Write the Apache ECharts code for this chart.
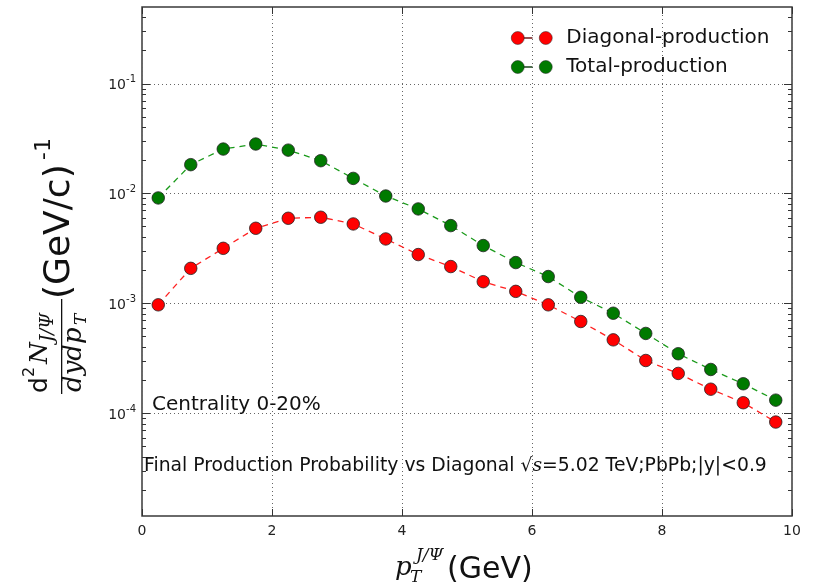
<!DOCTYPE html>
<html><head><meta charset="utf-8">
<script src="https://cdn.jsdelivr.net/npm/echarts@6/dist/echarts.min.js"></script>
<style>html,body{margin:0;padding:0;background:#fff}#c{width:815px;height:587px}</style>
</head><body><div id="c"></div>
<script>
// ---- data ----
const pt = [0.25,0.75,1.25,1.75,2.25,2.75,3.25,3.75,4.25,4.75,5.25,5.75,6.25,6.75,7.25,7.75,8.25,8.75,9.25,9.75];
const diagonal = [0.000973,0.00209,0.00318,0.00484,0.00597,0.0061,0.0053,0.00387,0.00279,0.00217,0.00158,0.00129,0.000973,0.000686,0.000467,0.000303,0.000231,0.000166,0.000125,0.0000834];
const total = [0.00914,0.01836,0.02547,0.0283,0.0249,0.01995,0.01377,0.00952,0.00726,0.00512,0.00337,0.00236,0.00176,0.00114,0.000816,0.000534,0.000349,0.000251,0.000186,0.000132];
const seriesNames = ['Diagonal-production','Total-production'];
const xTicks = [0,2,4,6,8,10];
const yDecades = [1e-5,1e-4,1e-3,1e-2,1e-1];
const yMajorTicks = [1e-4,1e-3,1e-2,1e-1];
const minorMultipliers = [2,3,4,5,6,7,8,9];
const yMin = 1.164e-5, yMax = 0.5;

const yMinorTicks = [];
yDecades.forEach(d => minorMultipliers.forEach(m => { const v = d*m; if (v > yMin && v < yMax) yMinorTicks.push(v); }));

const FONT = 'DejaVu Sans';
const SERIF = 'DejaVu Serif';
const INK = '#111';

function txt(x, y, text, font, extra) {
  return Object.assign({type:'text', x:x, y:y, silent:true,
    style:{text:text, font:font, fill:INK, align:'left', verticalAlign:'middle', textAlign:'left', textVerticalAlign:'middle'}}, extra||{});
}

const chart = echarts.init(document.getElementById('c'), null, {renderer:'canvas'});
const yAxisBase = {type:'log', logBase:10, min:yMin, max:yMax, axisLine:{show:false}, splitLine:{show:false}, axisLabel:{show:false}};
chart.setOption({
  animation:false,
  backgroundColor:'#fff',
  grid:{left:142, right:23, top:7, bottom:71, show:true, borderColor:'#3a3a3a', borderWidth:1.5, backgroundColor:'transparent'},
  xAxis:[
    {type:'value', min:xTicks[0], max:xTicks[xTicks.length-1], interval:2, position:'bottom',
     axisLine:{show:false},
     axisTick:{show:true, inside:true, length:7, lineStyle:{color:'#333', width:1}},
     axisLabel:{show:true, margin:8, fontFamily:FONT, fontSize:14, color:'#222'},
     splitLine:{show:true, lineStyle:{type:[1,3], color:'#666', width:1}}},
    {type:'value', min:xTicks[0], max:xTicks[xTicks.length-1], interval:2, position:'top',
     axisLine:{show:false}, axisLabel:{show:false}, splitLine:{show:false},
     axisTick:{show:true, inside:true, length:7, lineStyle:{color:'#333', width:1}}}
  ],
  yAxis:[
    Object.assign({}, yAxisBase, {position:'left',
      axisTick:{show:true, inside:true, length:8, customValues:yMajorTicks, lineStyle:{color:'#333', width:1}},
      axisLabel:{show:true, margin:6, customValues:yMajorTicks, fontFamily:FONT, color:'#222',
        formatter:function(v){ const e = Math.round(Math.log10(v)); return '{b|10}{s|' + e + '}'; },
        rich:{b:{fontFamily:FONT, fontSize:14, color:'#222', lineHeight:18, verticalAlign:'bottom'},
              s:{fontFamily:FONT, fontSize:10, color:'#222', lineHeight:18, verticalAlign:'top'}}},
      splitLine:{show:true, lineStyle:{type:[1,3], color:'#666', width:1}}}),
    Object.assign({}, yAxisBase, {position:'left',
      axisTick:{show:true, inside:true, length:4, customValues:yMinorTicks, lineStyle:{color:'#333', width:1}}}),
    Object.assign({}, yAxisBase, {position:'right',
      axisTick:{show:true, inside:true, length:8, customValues:yMajorTicks, lineStyle:{color:'#333', width:1}}}),
    Object.assign({}, yAxisBase, {position:'right',
      axisTick:{show:true, inside:true, length:4, customValues:yMinorTicks, lineStyle:{color:'#333', width:1}}})
  ],
  legend:{
    orient:'vertical', left:506, top:23, itemWidth:41, itemHeight:13, itemGap:9,
    icon:'path://M0,6.5A6.5,6.5 0 1,1 13,6.5A6.5,6.5 0 1,1 0,6.5ZM13,6.1L21,6.1L21,6.9L13,6.9ZM28,6.5A6.5,6.5 0 1,1 41,6.5A6.5,6.5 0 1,1 28,6.5Z',
    itemStyle:{borderWidth:0.5},
    textStyle:{fontFamily:FONT, fontSize:20, color:INK, lineHeight:20, padding:[0,0,0,9]},
    data:seriesNames
  },
  series:[
    {name:seriesNames[0], type:'line', xAxisIndex:0, yAxisIndex:0,
     data:pt.map((x,i)=>[x, diagonal[i]]),
     symbol:'circle', symbolSize:12.5, showSymbol:true,
     lineStyle:{color:'#ff2020', width:1.3, type:[6,5]},
     itemStyle:{color:'#ff0000', borderColor:'#222', borderWidth:0.8}},
    {name:seriesNames[1], type:'line', xAxisIndex:0, yAxisIndex:0,
     data:pt.map((x,i)=>[x, total[i]]),
     symbol:'circle', symbolSize:12.5, showSymbol:true,
     lineStyle:{color:'#1a9a1a', width:1.3, type:[6,5]},
     itemStyle:{color:'#007a00', borderColor:'#222', borderWidth:0.8}}
  ],
  graphic:[
    {type:'group', x:0, y:400, rotation:Math.PI/2, silent:true, children:[
      txt(7, 40, 'd', '25px "DejaVu Sans"'),
      txt(23, 30, '2', '16px "DejaVu Sans"'),
      txt(36, 40, 'N', 'italic 25px "DejaVu Serif"'),
      txt(58, 48, 'J/Ψ', 'italic 18px "DejaVu Serif"'),
      {type:'rect', shape:{x:6, y:61, width:95, height:1.3}, style:{fill:INK}},
      txt(8, 74, 'dydp', 'italic 26px "DejaVu Serif"'),
      txt(75, 82, 'T', 'italic 17px "DejaVu Serif"'),
      txt(101, 60, '(GeV/c)', '36px "DejaVu Sans"'),
      txt(240, 44, '-1', '22px "DejaVu Sans"')
    ]},
    txt(395, 568, 'p', 'italic 26px "DejaVu Serif"'),
    txt(410, 578, 'T', 'italic 17px "DejaVu Serif"'),
    txt(416, 556, 'J/Ψ', 'italic 17px "DejaVu Serif"'),
    txt(447, 570, '(GeV)', '30px "DejaVu Sans"'),
    txt(152, 405, 'Centrality 0-20%', '20px "DejaVu Sans"'),
    {type:'text', x:144, y:466, silent:true, style:{
      text:'{n|Final Production Probability vs Diagonal }{r|√}{i|s}{n|=5.02 TeV;PbPb;|y|<0.9}',
      fill:INK, align:'left', verticalAlign:'middle', textAlign:'left', textVerticalAlign:'middle',
      rich:{n:{fontFamily:FONT, fontSize:18.8, fill:INK, color:INK},
            r:{fontFamily:SERIF, fontSize:18.8, fill:INK, color:INK},
            i:{fontFamily:SERIF, fontStyle:'italic', fontSize:18.8, fill:INK, color:INK}}}}
  ]
});
</script></body></html>
